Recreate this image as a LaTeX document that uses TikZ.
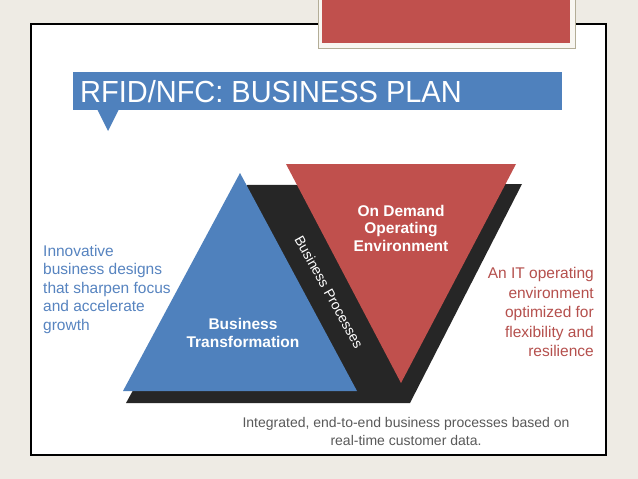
\documentclass[tikz,border=0pt]{standalone}
\usepackage{fontspec}
\setmainfont{Liberation Sans}
\newfontfamily\titlefont[FakeStretch=0.95]{Liberation Sans}
\usepackage{tikz}
\usetikzlibrary{positioning}

\definecolor{bgbeige}{HTML}{EEEBE4}
\definecolor{planblue}{HTML}{4F81BD}
\definecolor{planred}{HTML}{C0504D}
\definecolor{shadowgray}{HTML}{262626}
\definecolor{framegray}{HTML}{B3AD97}
\definecolor{framewhite}{HTML}{F8F6F1}
\definecolor{leftblue}{HTML}{5784C0}
\definecolor{rightred}{HTML}{B5504D}
\definecolor{notegray}{HTML}{595959}

\tikzset{
  bodytext/.style={inner sep=0pt, font=\fontsize{15.5}{18.5}\selectfont},
  boldtext/.style={inner sep=0pt, text=white, align=center,
                   font=\fontsize{15.5}{18}\selectfont\bfseries}
}

\begin{document}
\begin{tikzpicture}[x=1pt, y=-1pt]
  \useasboundingbox (0,0) rectangle (638,479);
  % Background and panel
  \fill[bgbeige] (0,0) rectangle (638,479);
  \draw[black, line width=1.5pt, fill=white] (31,24) rectangle (606,455);

  % Red tab at the top
  \draw[framegray, line width=0.8pt, fill=framewhite] (318,-2) rectangle (575,48);
  \fill[planred] (322,-2) rectangle (570,43);

  % Title banner with pointer
  \fill[planblue] (73,72) rectangle (562,110);
  \fill[planblue] (97,109) -- (119,109) -- (108,131) -- cycle;
  \node[anchor=base west, inner sep=0pt, text=white,
        font=\fontsize{30.5}{32}\titlefont] (title) at (80,102)
    {RFID/NFC: BUSINESS PLAN};

  % Shadow behind the triangles
  \fill[shadowgray] (126,403) -- (247,185) -- (522,184) -- (410,403) -- cycle;

  % Triangles
  \fill[planblue] (123,391) -- (240,173) -- (357,391) -- cycle;
  \fill[planred] (286,164) -- (516,164) -- (401,383) -- cycle;

  \node[boldtext] (transform) at (243,333) {Business\\Transformation};
  \node[boldtext, font=\fontsize{15.5}{17.5}\selectfont\bfseries] (demand)
    at (401,228) {On Demand\\Operating\\Environment};
  \node[inner sep=0pt, text=white, rotate=-61,
        font=\fontsize{14}{16}\selectfont] (processes) at (329,292)
    {Business Processes};

  % Side notes
  \node[bodytext, text=leftblue, align=left, anchor=west] (leftnote) at (43,289)
    {Innovative\\business designs\\that sharpen focus\\and accelerate\\growth};
  \node[bodytext, text=rightred, align=right, anchor=east,
        font=\fontsize{15.5}{19.5}\selectfont] (rightnote) at (594,312)
    {An IT operating\\environment\\optimized for\\flexibility and\\resilience};
  \node[bodytext, text=notegray, align=center,
        font=\fontsize{14}{18}\selectfont] (bottomnote) at (406,431)
    {Integrated, end-to-end business processes based on\\real-time customer data.};
\end{tikzpicture}
\end{document}
